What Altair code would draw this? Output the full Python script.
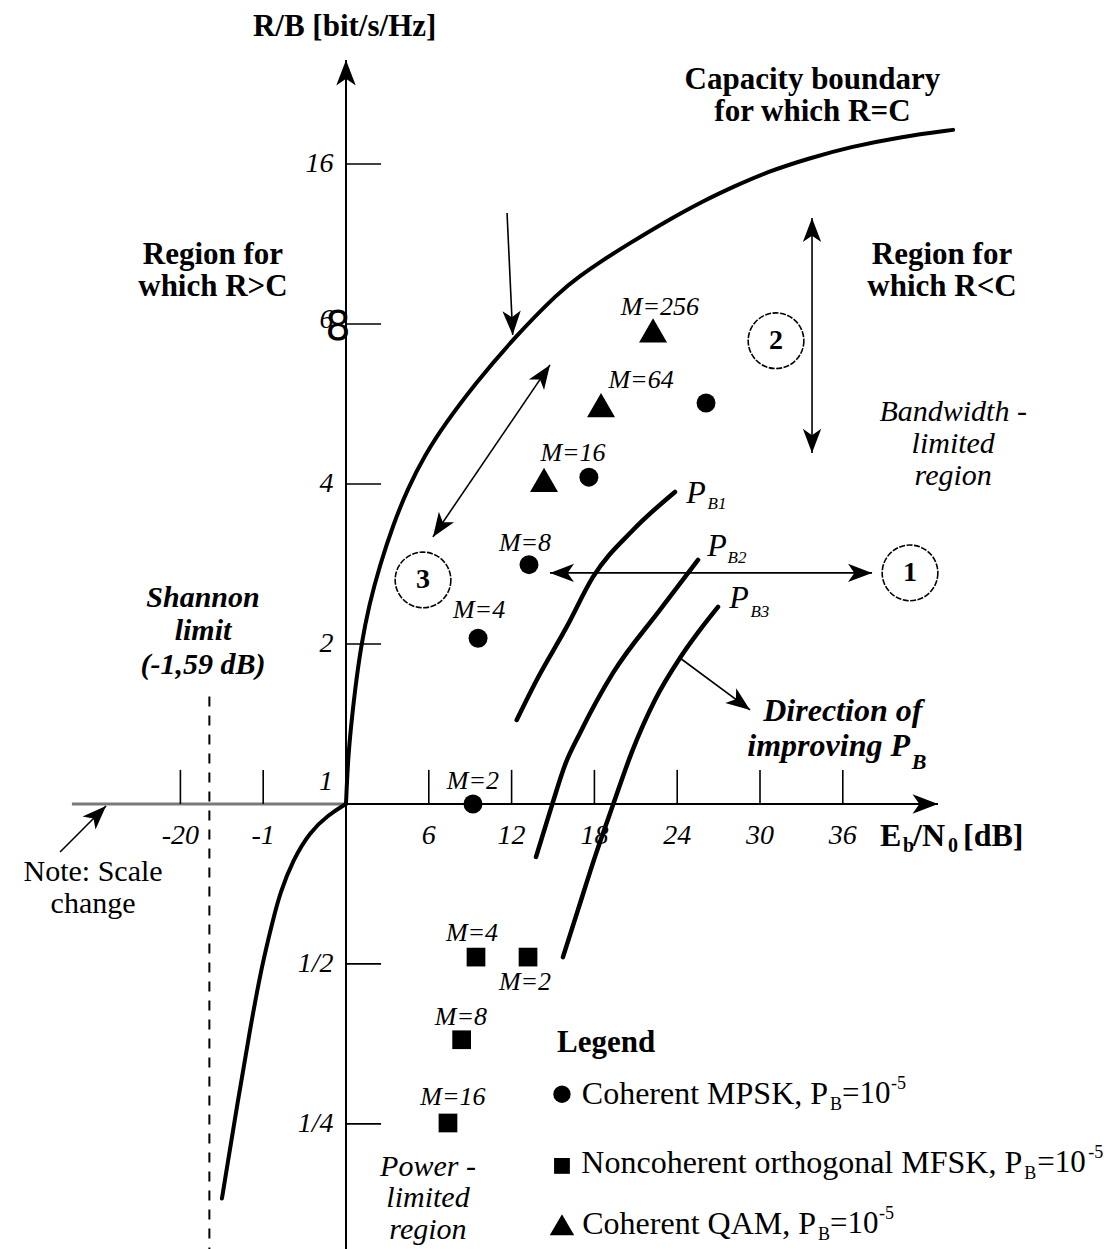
import math
import altair as alt
import pandas as pd

SERIF = "Liberation Serif"
SANS = "DejaVu Sans"

# ---------------------------------------------------------------------------
# Plane geometry: horizontal axis in axis units (Eb/N0 in dB to the right of
# the origin, compressed "scale change" region to the left); vertical axis is
# R/B on a log2 scale.
# ---------------------------------------------------------------------------
W, H = 1119, 1249
X_DOMAIN = [-25.072, 56.014]
Y_DOMAIN = [0.1454, 32.56]

# Capacity boundary R = C (below the origin, then above it)
cap_low_ebno = [-8.99, -7.83, -6.96, -6.09, -5.29, -4.78, -3.84, -2.61, -1.30, 0.0]
cap_low_rb = [0.181, 0.277, 0.376, 0.498, 0.605, 0.680, 0.785, 0.886, 0.953, 1.0]
cap_high_ebno = [0.0, 0.14, 0.36, 0.65, 1.09, 1.67, 2.46, 3.41, 4.49, 5.72, 7.17,
                 9.35, 12.03, 15.51, 16.96, 18.41, 20.58, 23.12, 25.87, 28.19,
                 30.51, 33.62, 36.52, 40.14, 43.99]
cap_high_rb = [1.0, 1.210, 1.396, 1.639, 1.983, 2.368, 2.816, 3.349, 3.931, 4.536,
               5.188, 6.169, 7.464, 9.23, 9.85, 10.47, 11.36, 12.45, 13.63, 14.55,
               15.46, 16.42, 17.22, 17.99, 18.55]

# Constant bit-error-probability curves P_B1, P_B2, P_B3
pb1_ebno = [12.37, 13.82, 15.99, 17.90, 20.80, 23.84]
pb1_rb = [1.439, 1.711, 2.153, 2.674, 3.277, 3.864]
pb2_ebno = [13.77, 14.93, 15.87, 16.96, 19.35, 22.75, 25.51]
pb2_rb = [0.795, 0.996, 1.184, 1.360, 1.764, 2.318, 2.878]
pb3_ebno = [15.72, 16.81, 18.04, 19.35, 20.72, 22.39, 24.20, 25.65, 26.96]
pb3_rb = [0.515, 0.632, 0.795, 0.996, 1.253, 1.569, 1.882, 2.125, 2.348]

# Modulation schemes at P_B = 1e-5
psk_ebno = [9.2, 9.57, 13.26, 17.6, 26.09]
psk_rb = [1.0, 2.05, 2.82, 4.12, 5.68]
qam_ebno = [14.35, 18.48, 22.25]
qam_rb = [4.07, 5.63, 7.78]
fsk_ebno = [13.19, 9.42, 8.38, 7.39]
fsk_rb = [0.515, 0.515, 0.36, 0.251]

point_labels = ["M=256", "M=64", "M=16", "M=8", "M=4", "M=2",
                "M=4", "M=2", "M=8", "M=16"]
point_label_x = [22.75, 21.38, 16.45, 12.97, 9.64, 9.2, 9.13, 12.97, 8.33, 7.75]
point_label_y = [8.61, 6.28, 4.58, 3.10, 2.32, 1.105, 0.572, 0.4627, 0.3975, 0.281]

# Axis ticks
x_tick_pos = [-12, -6, 6, 12, 18, 24, 30, 36]
x_tick_text = ["-20", "-1", "6", "12", "18", "24", "30", "36"]
y_tick_pos = [16, 8, 4, 2, 0.5, 0.25]
y_tick_text = ["16", "6", "4", "2", "1/2", "1/4"]
y_tick_label_y = [16, 8.14, 4, 2, 0.5, 0.25]

# Arrows: start, end, heads at start / end
arr_x0 = [11.67, 14.78, 33.77, 14.78, 24.20, -20.72]
arr_y0 = [12.94, 6.70, 12.66, 2.721, 1.882, 0.812]
arr_x1 = [12.08, 6.30, 33.77, 38.12, 29.28, -17.39]
arr_y1 = [7.63, 3.18, 4.576, 2.721, 1.503, 0.991]
arr_head_start = [False, True, True, True, False, False]
arr_head_end = [True, True, True, True, True, True]

# Circled region numbers
circ_text = ["1", "2", "3"]
circ_x = [40.87, 31.16, 5.58]
circ_y = [2.721, 7.44, 2.639]

# Legend
legend_marker_x = 15.65
legend_row_y = [0.2848, 0.2112, 0.1621]
legend_marker_y = [0.2843, 0.2084, 0.1615]
legend_main = ["Coherent MPSK, P", "Noncoherent orthogonal MFSK, P", "Coherent QAM, P"]
legend_main_right = [34.93, 49.0, 34.06]
legend_sub_x = [35.07, 49.15, 34.2]
legend_eq_x = [35.94, 50.09, 35.07]
legend_exp_x = [39.49, 53.79, 38.62]

# ---------------------------------------------------------------------------
x_scale = alt.Scale(domain=X_DOMAIN, nice=False, zero=False)
y_scale = alt.Scale(type="log", base=2, domain=Y_DOMAIN, nice=False)

PX_X = W / (X_DOMAIN[1] - X_DOMAIN[0])
PX_Y = H / (math.log2(Y_DOMAIN[1]) - math.log2(Y_DOMAIN[0]))

ARROW = "M0,0 L-0.65,1.7 L0,1.25 L0.65,1.7 Z"


def X(field="x"):
    return alt.X(f"{field}:Q", scale=x_scale, axis=None)


def Y(field="y"):
    return alt.Y(f"{field}:Q", scale=y_scale, axis=None)


def heading(x0, y0, x1, y1):
    dx = (x1 - x0) * PX_X
    dy = (math.log2(y1) - math.log2(y0)) * PX_Y
    return math.degrees(math.atan2(dx, dy)) % 360


def segments(x0, y0, x1, y1, color="black", width=1.5, dash=None):
    df = pd.DataFrame({"x": x0, "y": y0, "x1": x1, "y1": y1})
    kw = dict(color=color, strokeWidth=width)
    if dash:
        kw["strokeDash"] = dash
    return alt.Chart(df).mark_rule(**kw).encode(
        x=X(), y=Y(), x2=alt.X2("x1:Q"), y2=alt.Y2("y1:Q"))


def heads(rows, size):
    df = pd.DataFrame(rows, columns=["x", "y", "ang"])
    return alt.Chart(df).mark_point(shape=ARROW, filled=True, color="black",
                                    opacity=1, size=size).encode(
        x=X(), y=Y(), angle=alt.Angle("ang:Q", scale=None))


def curve(xs, ys, width, interp="monotone"):
    df = pd.DataFrame({"x": xs, "y": ys, "i": range(len(xs))})
    return alt.Chart(df).mark_line(color="black", strokeWidth=width,
                                   strokeCap="round",
                                   interpolate=interp).encode(
        x=X(), y=Y(), order=alt.Order("i:Q"))


def texts(rows, size, weight="normal", style="normal", align="center",
          font=SERIF, dy=0, line_height=None):
    # y of a multi-line entry is the middle of its first line
    df = pd.DataFrame(rows, columns=["t", "x", "y"])
    kw = dict(font=font, fontSize=size, fontWeight=weight, fontStyle=style,
              align=align, baseline="middle", dy=dy, color="black",
              lineBreak="\n")
    if line_height:
        kw["lineHeight"] = line_height
    return alt.Chart(df).mark_text(**kw).encode(x=X(), y=Y(), text="t:N")


def markers(xs, ys, shape, size):
    df = pd.DataFrame({"x": xs, "y": ys})
    return alt.Chart(df).mark_point(shape=shape, filled=True, color="black",
                                    opacity=1, size=size).encode(x=X(), y=Y())


layers = []

# --- axes ------------------------------------------------------------------
layers.append(segments([-19.86], [1.0], [0.0], [1.0], color="#7a7a7a", width=3))
layers.append(segments([0.0], [1.0], [42.9], [1.0], width=2))
layers.append(segments([0.0], [Y_DOMAIN[0]], [0.0], [25.1], width=2))
layers.append(heads([(42.9, 1.0, 90.0), (0.0, 25.1, 0.0)], 900))
layers.append(segments(x_tick_pos, [1.0] * len(x_tick_pos), x_tick_pos,
                       [1.159] * len(x_tick_pos), width=1.6))
layers.append(segments([0.0] * len(y_tick_pos), y_tick_pos,
                       [2.54] * len(y_tick_pos), y_tick_pos, width=1.6))

# Shannon limit
layers.append(segments([-9.9], [1.592], [-9.9], [Y_DOMAIN[0]], width=2,
                       dash=[10, 9]))

# --- curves ------------------------------------------------------------------
layers.append(curve(cap_low_ebno, cap_low_rb, 4, "basis"))
layers.append(curve(cap_high_ebno, cap_high_rb, 4, "basis"))
layers.append(curve(pb1_ebno, pb1_rb, 4.5))
layers.append(curve(pb2_ebno, pb2_rb, 4.5))
layers.append(curve(pb3_ebno, pb3_rb, 4.5))

# --- modulation points ----------------------------------------------------
layers.append(markers(psk_ebno, psk_rb, "circle", 360))
layers.append(markers(qam_ebno, qam_rb, "triangle-up", 784))
layers.append(markers(fsk_ebno, fsk_rb, "square", 350))

# --- arrows --------------------------------------------------------------
layers.append(segments(arr_x0, arr_y0, arr_x1, arr_y1, width=1.6))
head_rows = []
for x0, y0, x1, y1, hs, he in zip(arr_x0, arr_y0, arr_x1, arr_y1,
                                  arr_head_start, arr_head_end):
    if he:
        head_rows.append((x1, y1, heading(x0, y0, x1, y1)))
    if hs:
        head_rows.append((x0, y0, heading(x1, y1, x0, y0)))
layers.append(heads(head_rows, 800))

# circled numbers
circ_df = pd.DataFrame({"x": circ_x, "y": circ_y})
layers.append(alt.Chart(circ_df).mark_point(shape="circle", filled=False,
                                            color="black", opacity=1,
                                            size=3100, strokeWidth=1.6,
                                            strokeDash=[6, 1.5]).encode(x=X(), y=Y()))
layers.append(texts(list(zip(circ_text, circ_x, circ_y)), 28, weight="bold"))

# --- legend ----------------------------------------------------------------
layers.append(markers([legend_marker_x], [legend_marker_y[0]], "circle", 300))
layers.append(markers([legend_marker_x], [legend_marker_y[1]], "square", 250))
layers.append(markers([legend_marker_x], [legend_marker_y[2]], "triangle-up", 600))
layers.append(texts([("Legend", 15.29, 0.355)], 31, weight="bold", align="left"))
layers.append(texts(list(zip(legend_main, legend_main_right, legend_row_y)), 32,
                    align="right"))
layers.append(texts(list(zip(["B"] * 3, legend_sub_x, legend_row_y)), 18,
                    align="left", dy=11))
layers.append(texts(list(zip(["=10"] * 3, legend_eq_x, legend_row_y)), 31,
                    align="left"))
layers.append(texts(list(zip(["-5"] * 3, legend_exp_x, legend_row_y)), 18,
                    align="left", dy=-10))

# --- labels ----------------------------------------------------------------
layers.append(texts(list(zip(point_labels, point_label_x, point_label_y)), 26,
                    style="italic"))
layers.append(texts([("P", 25.36, 3.85), ("P", 26.88, 3.06), ("P", 28.48, 2.44)],
                    32, style="italic"))
layers.append(texts([("B1", 26.88, 3.67), ("B2", 28.33, 2.90), ("B3", 29.99, 2.30)],
                    17, style="italic"))

# tick labels
layers.append(texts(list(zip(x_tick_text, x_tick_pos, [0.871] * len(x_tick_pos))),
                    28, style="italic"))
layers.append(texts(list(zip(y_tick_text, [-0.9] * len(y_tick_text), y_tick_label_y))
                    + [("1", -0.94, 1.10)], 28, style="italic", align="right"))
layers.append(texts([("8", -0.58, 7.86)], 40, font=SANS))

# axis titles
layers.append(texts([("R/B [bit/s/Hz]", -0.1, 29.0)], 31, weight="bold"))
layers.append(texts([("E", 38.70, 0.871), ("/N", 41.09, 0.871), ("[dB]", 44.71, 0.871)],
                    32, weight="bold", align="left"))
layers.append(texts([("b", 40.36, 0.871), ("0", 43.62, 0.871)], 20, weight="bold",
                    align="left", dy=10))

# region annotations (y = first line)
layers.append(texts([("Capacity boundary\nfor which R=C", 33.8, 23.02)], 31,
                    weight="bold", line_height=32))
layers.append(texts([("Region for\nwhich R>C", -9.64, 10.79),
                     ("Region for\nwhich R<C", 43.19, 10.79)], 31,
                    weight="bold", line_height=32))
layers.append(texts([("Bandwidth -\nlimited\nregion", 44.0, 5.464)], 30,
                    style="italic", line_height=32))
layers.append(texts([("Power -\nlimited\nregion", 5.94, 0.2075)], 30,
                    style="italic", line_height=31.5))
layers.append(texts([("Shannon\nlimit\n(-1,59 dB)", -10.36, 2.441)], 30,
                    weight="bold", style="italic", line_height=33.5))
layers.append(texts([("Direction of", 36.0, 1.496)], 32, weight="bold",
                    style="italic"))
layers.append(texts([("improving P", 40.87, 1.286)], 32, weight="bold",
                    style="italic", align="right"))
layers.append(texts([("B", 41.0, 1.20)], 22, weight="bold", style="italic",
                    align="left"))
layers.append(texts([("Note: Scale\nchange", -18.33, 0.7449)], 30, line_height=32))

chart = alt.layer(*layers).properties(
    width=W, height=H, padding=0,
    autosize=alt.AutoSizeParams(type="none"),
).configure_view(stroke=None)

chart.save("out.html", embed_options={"renderer": "svg", "actions": False})
